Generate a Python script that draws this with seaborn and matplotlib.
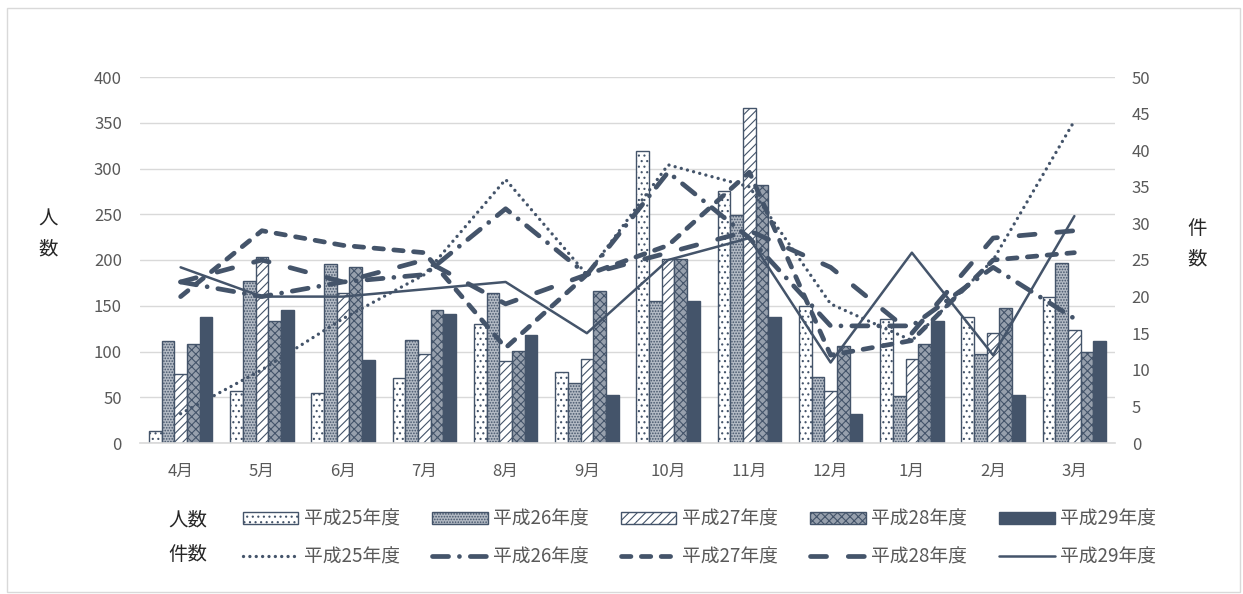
import matplotlib
matplotlib.use("Agg")
import matplotlib.pyplot as plt
import matplotlib.patches as mpatches
import seaborn as sns
import numpy as np
import pandas as pd

# 月・年度
months = ["4月", "5月", "6月", "7月", "8月", "9月", "10月", "11月", "12月", "1月", "2月", "3月"]
years = ["平成25年度", "平成26年度", "平成27年度", "平成28年度", "平成29年度"]

# 人数 (左軸・棒)
people_h25 = [13, 57, 55, 71, 130, 78, 319, 275, 150, 136, 138, 160]
people_h26 = [112, 177, 196, 113, 164, 66, 155, 249, 72, 51, 97, 197]
people_h27 = [75, 203, 164, 97, 90, 92, 201, 366, 57, 92, 120, 123]
people_h28 = [108, 133, 192, 145, 101, 166, 201, 282, 106, 108, 148, 100]
people_h29 = [138, 145, 91, 141, 118, 53, 155, 138, 32, 133, 53, 111]

# 件数 (右軸・線)
cases_h25 = [4, 10, 17, 23, 36, 23, 38, 35, 19, 14, 25, 44]
cases_h26 = [22, 20, 22, 23, 32, 23, 37, 28, 16, 16, 24, 17]
cases_h27 = [20, 29, 27, 26, 13, 23, 27, 37, 12, 14, 25, 26]
cases_h28 = [22, 25, 22, 25, 19, 23, 26, 29, 24, 15, 28, 29]
cases_h29 = [24, 20, 20, 21, 22, 15, 25, 28, 11, 26, 12, 31]

people = [people_h25, people_h26, people_h27, people_h28, people_h29]
cases = [cases_h25, cases_h26, cases_h27, cases_h28, cases_h29]

navy = "#44546A"
gray_txt = "#595959"
grid_c = "#D9D9D9"

sns.set_style("white")
plt.rcParams["font.family"] = ["Noto Sans CJK JP", "DejaVu Sans"]
plt.rcParams["hatch.color"] = navy
plt.rcParams["hatch.linewidth"] = 0.8

df = pd.DataFrame({
    "month": np.tile(months, len(years)),
    "year": np.repeat(years, len(months)),
    "count": np.concatenate(people),
})

fig = plt.figure(figsize=(12.43, 5.94), dpi=100)
ax = fig.add_axes([140 / 1243, 1 - 443 / 594, 975 / 1243, 366 / 594])

sns.barplot(data=df, x="month", y="count", hue="year", order=months, hue_order=years,
            palette=["white"] * 5, width=0.78, gap=0, legend=False, ax=ax)

bar_styles = [
    dict(fc="white", hatch="..."),
    dict(fc="#B3BAC4", hatch="......"),
    dict(fc="white", hatch="////"),
    dict(fc="#97A0AD", hatch="xxxx"),
    dict(fc=navy, hatch=None),
]
bar_handles = []
for cont, st in zip(ax.containers, bar_styles):
    for b in cont:
        b.set_facecolor(st["fc"])
        b.set_edgecolor(navy)
        b.set_linewidth(1.0)
        if st["hatch"]:
            b.set_hatch(st["hatch"])
    bar_handles.append(cont[0])

ax.set_ylim(0, 400)
ax.set_xlim(-0.5, 11.5)
ax.set_yticks(range(0, 401, 50))
ax.yaxis.grid(True, color=grid_c, lw=1.0)
ax.set_axisbelow(True)
for s in ["top", "right", "left"]:
    ax.spines[s].set_visible(False)
ax.spines["bottom"].set_color(grid_c)
ax.spines["bottom"].set_linewidth(1.2)
ax.tick_params(axis="both", length=0, labelsize=12, labelcolor=gray_txt)
ax.tick_params(axis="y", pad=13)
ax.tick_params(axis="x", pad=14)
ax.set_xlabel("")
ax.set_ylabel("")

# 件数の線
ax2 = ax.twinx()
line_styles = [
    dict(lw=2.4, ls=(0, (0.01, 1.9))),
    dict(lw=3.4, ls=(0, (3.4, 2.3, 0.01, 2.3))),
    dict(lw=3.4, ls=(0, (2.0, 2.2))),
    dict(lw=3.4, ls=(0, (3.4, 4.6))),
    dict(lw=1.8, ls="-"),
]
x_pos = np.arange(len(months))
line_handles = []
for vals, st, yr in zip(cases, line_styles, years):
    sns.lineplot(x=x_pos, y=vals, ax=ax2, color=navy, linewidth=st["lw"],
                 linestyle=st["ls"], dash_capstyle="round", solid_capstyle="round",
                 label=yr, legend=False)
    line_handles.append(ax2.lines[-1])
if ax2.get_legend() is not None:
    ax2.get_legend().remove()

ax2.set_ylim(0, 50)
ax2.set_yticks(range(0, 51, 5))
for s in ["top", "right", "left", "bottom"]:
    ax2.spines[s].set_visible(False)
ax2.tick_params(axis="y", length=0, labelsize=12, labelcolor=gray_txt, pad=12)
ax2.set_ylabel("")

# 軸タイトル
fig.text(48 / 1243, 1 - 234 / 594, "人\n数", ha="center", va="center", fontsize=14,
         linespacing=1.6)
fig.text(1197 / 1243, 1 - 244 / 594, "件\n数", ha="center", va="center", fontsize=14,
         linespacing=1.6)

# 凡例
handles = []
for bh, lh in zip(bar_handles, line_handles):
    handles += [bh, lh]
labels = []
for yr in years:
    labels += [yr, yr]
fig.legend(handles, labels, ncol=5, loc="center left",
           bbox_to_anchor=(243 / 1243, 1 - 538 / 594), frameon=False,
           fontsize=13.5, labelcolor=gray_txt, handlelength=2.95, handleheight=0.65,
           handletextpad=0.3, columnspacing=1.72, labelspacing=0.9,
           borderpad=0, borderaxespad=0)
fig.text(188 / 1243, 1 - 520 / 594, "人数", ha="center", va="center", fontsize=14)
fig.text(188 / 1243, 1 - 555 / 594, "件数", ha="center", va="center", fontsize=14)

# 外枠
fig.patches.append(mpatches.Rectangle((7 / 1243, 2 / 594), 1233 / 1243, 584 / 594,
                                      transform=fig.transFigure, fill=False,
                                      edgecolor=grid_c, lw=1.0))

fig.savefig("out.png", dpi=100)
